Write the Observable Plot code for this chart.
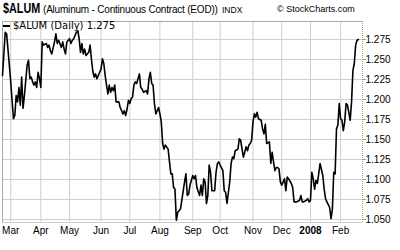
<!DOCTYPE html>
<html>
<head>
<meta charset="utf-8">
<script src="https://cdn.jsdelivr.net/npm/d3@7"></script>
<script src="https://cdn.jsdelivr.net/npm/@observablehq/plot@0.6"></script>
<style>
  html, body { margin: 0; padding: 0; background: #fff; }
  #wrap { position: relative; width: 400px; height: 250px; overflow: hidden; font-family: "Liberation Sans", Arial, sans-serif; }
  #wrap svg { position: absolute; left: 0; top: 0; }
  .t { position: absolute; white-space: nowrap; line-height: 1; color: #000; }
</style>
</head>
<body>
<div id="wrap">
  <div id="chart"></div>
  <div class="t" style="left:3px;top:0.3px;font-size:15px;font-weight:bold;transform:scaleX(0.72);transform-origin:0 0;">$ALUM</div>
  <div class="t" style="left:43px;top:4.5px;font-size:10px;letter-spacing:-0.2px;">(Aluminum - Continuous Contract (EOD))</div>
  <div class="t" style="left:222px;top:6px;font-size:8.5px;">INDX</div>
  <div class="t" style="left:277px;top:5.4px;font-size:9px;">© StockCharts.com</div>
  <div style="position:absolute;left:3px;top:25px;width:7px;height:2px;background:#000;"></div>
  <div class="t" style="left:13px;top:21px;font-size:10px;font-family:'DejaVu Sans',sans-serif;">$ALUM (Daily) 1.275</div>
</div>
<script>
// trading-day index (weekdays from 2007-02-21) and closing values
const days = [0,2,3,5,6,8,9,10,11,12,13,14,15,16,18,19,20,21,22,23,24,25,26,27,28,29,30,32,33,34,35,36,38,39,40,41,43,44,45,46,47,49,50,51,52,54,55,56,57,58,59,60,61,63,64,65,66,67,68,69,71,72,73,74,75,76,77,78,79,80,81,82,83,85,86,88,89,90,91,92,93,94,95,96,97,98,100,101,102,103,105,106,107,108,109,110,111,112,113,114,115,116,117,118,119,121,122,123,124,125,126,127,128,129,130,131,133,134,135,136,137,139,140,141,142,144,145,146,147,148,149,150,151,152,153,155,156,157,158,159,161,162,163,164,166,167,168,169,170,172,173,174,175,176,178,179,180,181,182,183,184,185,186,187,189,190,191,192,193,195,196,197,198,199,200,201,202,203,204,206,207,208,209,211,212,213,215,217,218,219,220,222,223,224,225,226,227,228,229,230,231,232,234,235,236,237,239,240,241,242,243,244,245,246,247,248,249,250,251,252,253,254,255,256,257,258,259,260];
const prices = [1.230,1.284,1.282,1.243,1.222,1.176,1.180,1.205,1.197,1.215,1.193,1.228,1.189,1.205,1.243,1.249,1.226,1.228,1.222,1.218,1.222,1.215,1.234,1.226,1.215,1.272,1.268,1.270,1.265,1.268,1.261,1.257,1.272,1.282,1.270,1.274,1.265,1.272,1.263,1.257,1.272,1.276,1.270,1.274,1.276,1.284,1.286,1.276,1.259,1.270,1.257,1.263,1.255,1.259,1.268,1.250,1.235,1.228,1.232,1.226,1.234,1.238,1.251,1.245,1.230,1.218,1.207,1.218,1.209,1.215,1.211,1.218,1.197,1.197,1.190,1.182,1.186,1.180,1.188,1.199,1.195,1.201,1.203,1.218,1.222,1.220,1.232,1.215,1.213,1.209,1.211,1.207,1.226,1.234,1.220,1.218,1.195,1.182,1.186,1.190,1.182,1.172,1.145,1.138,1.143,1.138,1.122,1.107,1.107,1.090,1.088,1.049,1.059,1.061,1.063,1.074,1.097,1.107,1.080,1.082,1.093,1.105,1.101,1.105,1.090,1.080,1.093,1.080,1.101,1.097,1.070,1.080,1.118,1.109,1.086,1.086,1.109,1.120,1.122,1.118,1.111,1.086,1.084,1.070,1.097,1.120,1.128,1.126,1.136,1.138,1.151,1.149,1.138,1.128,1.141,1.136,1.143,1.145,1.149,1.172,1.182,1.178,1.184,1.176,1.174,1.163,1.157,1.169,1.145,1.147,1.120,1.134,1.122,1.111,1.115,1.115,1.113,1.097,1.093,1.101,1.086,1.103,1.101,1.095,1.090,1.072,1.072,1.074,1.080,1.072,1.072,1.074,1.076,1.072,1.074,1.109,1.101,1.088,1.099,1.095,1.107,1.120,1.105,1.088,1.076,1.072,1.065,1.051,1.063,1.109,1.107,1.163,1.168,1.195,1.176,1.174,1.161,1.172,1.195,1.193,1.184,1.174,1.197,1.236,1.245,1.268,1.274,1.275];

// month-start positions (trading-day index) and their labels
const monthTicks = [6,28,49,72,93,115,139,159,183,204,225,247];
const monthLabels = ["Mar","Apr","May","Jun","Jul","Aug","Sep","Oct","Nov","Dec","2008","Feb"];
const yearLabel = "2008";
const yTicks = [1.050,1.075,1.100,1.125,1.150,1.175,1.200,1.225,1.250,1.275];

const data = days.map((d, i) => ({day: d, price: prices[i]}));
const months = monthTicks.map((d, i) => ({day: d, label: monthLabels[i]}));
const xMax = 263, yMin = 1.04625, yMax = 1.2975;

const chart = Plot.plot({
  width: 400,
  height: 250,
  marginTop: 21,
  marginBottom: 28,
  marginLeft: 2,
  marginRight: 38,
  style: {fontFamily: "'Liberation Sans', Arial, sans-serif", fontSize: "10px", background: "transparent", color: "#000"},
  x: {domain: [0, xMax], axis: null},
  y: {domain: [yMin, yMax], axis: null},
  marks: [
    Plot.ruleX(monthTicks, {stroke: "#cfcfcf", strokeWidth: 1}),
    Plot.ruleY(yTicks, {stroke: "#cfcfcf", strokeWidth: 1}),
    Plot.ruleY([yMax], {stroke: "#aaa"}),
    Plot.ruleY([yMin], {stroke: "#cfcfcf"}),
    Plot.ruleX([0], {stroke: "#aaa"}),
    Plot.ruleX([xMax], {stroke: "#999", strokeDasharray: "1,1"}),
    Plot.axisY({anchor: "right", label: null, ticks: yTicks, tickFormat: d => d.toFixed(3), tickSize: 3, tickPadding: 0, stroke: "#999", fill: "#000", fontSize: 10}),
    Plot.text(months.filter(m => m.label !== yearLabel), {x: "day", text: "label", frameAnchor: "bottom", dy: 11, fontSize: 10, fill: "#000"}),
    Plot.text(months.filter(m => m.label === yearLabel), {x: "day", text: "label", frameAnchor: "bottom", dy: 11, fontSize: 10, fontWeight: "bold", fill: "#000"}),
    Plot.line(data, {x: "day", y: "price", stroke: "#000", strokeWidth: 1.6})
  ]
});
document.getElementById("chart").appendChild(chart);
</script>
</body>
</html>
